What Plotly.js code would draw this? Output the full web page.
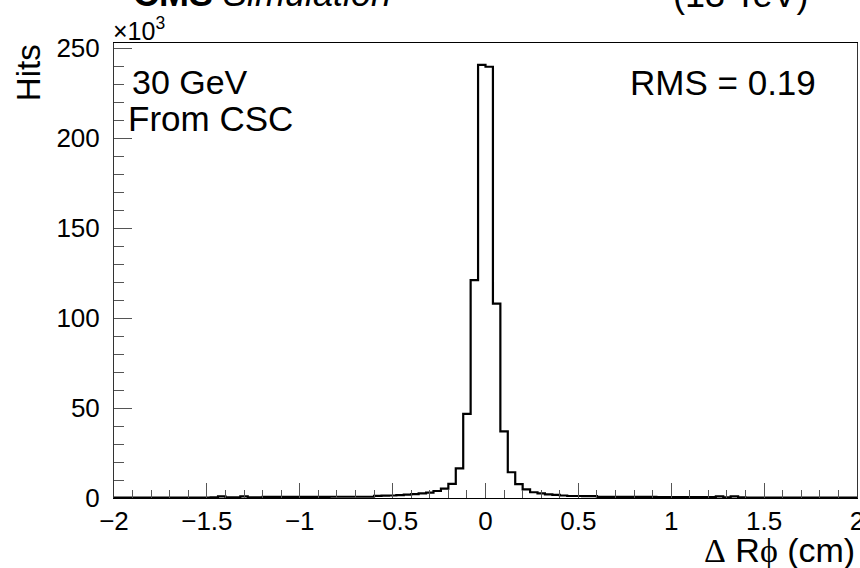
<!DOCTYPE html>
<html>
<head>
<meta charset="utf-8">
<script src="https://cdn.plot.ly/plotly-3.0.1.min.js"></script>
<style>html,body{margin:0;padding:0;background:#fff;}#chart{width:860px;height:568px;}</style>
</head>
<body>
<div id="chart"></div>
<script>
// Histogram definition: 100 bins of width 0.04 from -2 to 2 (ΔRφ in cm)
const binLow = -2;
const binWidth = 0.04;
// Hits per bin, in units of 10^3
const hits = [
  0.2, 0.2, 0.2, 0.2, 0.2, 0.2, 0.2, 0.2, 0.2, 0.2,
  0.2, 0.2, 0.2, 0.3, 0.9, 0.3, 0.3, 0.9, 0.4, 0.4,
  0.6, 0.6, 0.6, 0.6, 0.6, 0.6, 0.6, 0.6, 0.6, 0.7,
  0.7, 0.7, 0.7, 0.7, 0.7, 1.2, 1.3, 1.4, 1.6, 1.9,
  2.2, 2.6, 3.0, 3.9, 5.2, 7.8, 16.5, 46.7, 121, 240.7,
  239.6, 108, 37, 14.3, 7.7, 4.8, 3.2, 2.6, 2.0, 1.7,
  1.4, 1.1, 1.1, 1.0, 1.0, 0.6, 0.6, 0.6, 0.6, 0.6,
  0.6, 0.6, 0.6, 0.5, 0.5, 0.5, 0.5, 0.5, 0.5, 0.5,
  0.5, 0.9, 0.4, 0.9, 0.3, 0.2, 0.2, 0.2, 0.2, 0.2,
  0.2, 0.2, 0.2, 0.2, 0.2, 0.2, 0.2, 0.2, 0.2, 0.2
];
const yTickVals = [0, 50, 100, 150, 200, 250];
const xTickVals = [-2, -1.5, -1, -0.5, 0, 0.5, 1, 1.5, 2];
const xTickText = ['\u22122', '\u22121.5', '\u22121', '\u22120.5', '0', '0.5', '1', '1.5', '2'];

// Build step outline (ROOT-style histogram)
const xs = [], ys = [];
xs.push(binLow); ys.push(0);
for (let i = 0; i < hits.length; i++) {
  xs.push(binLow + i * binWidth); ys.push(hits[i]);
}
xs.push(binLow + hits.length * binWidth); ys.push(hits[hits.length - 1]);
xs.push(binLow + hits.length * binWidth); ys.push(0);

const FONT = 'Liberation Sans, Arial, Helvetica, sans-serif';
const SERIF = 'Liberation Serif, serif';

const trace = {
  type: 'scatter', mode: 'lines', x: xs, y: ys,
  line: {shape: 'hv', color: '#000', width: 2.2},
  hoverinfo: 'skip', showlegend: false
};

const layout = {
  width: 860, height: 568,
  margin: {l: 114, r: 3, t: 43, b: 70, pad: 0},
  paper_bgcolor: '#fff', plot_bgcolor: '#fff',
  font: {family: FONT, color: '#000'},
  xaxis: {
    range: [-2, 2], showgrid: false, zeroline: false,
    showline: true, linecolor: '#000', linewidth: 1, mirror: true,
    ticks: 'inside', ticklen: 15, tickwidth: 1, tickcolor: '#555',
    tickvals: xTickVals, ticktext: xTickText,
    ticklabeloverflow: 'allow',
    tickfont: {size: 26, family: FONT, color: '#000'},
    minor: {dtick: 0.1, ticks: 'inside', ticklen: 8, tickwidth: 1, tickcolor: '#555', showgrid: false}
  },
  yaxis: {
    range: [0, 252.8], showgrid: false, zeroline: false,
    showline: true, linecolor: '#333', linewidth: 1, mirror: true,
    ticks: 'inside', ticklen: 18, tickwidth: 1, tickcolor: '#555',
    tickvals: yTickVals, ticktext: yTickVals.map(String),
    ticklabelstandoff: 8,
    tickfont: {size: 26, family: FONT, color: '#000'},
    minor: {dtick: 10, ticks: 'inside', ticklen: 10, tickwidth: 1, tickcolor: '#555', showgrid: false}
  },
  annotations: [
    {xref: 'paper', yref: 'paper', x: -0.004, y: 0.991, xanchor: 'left', yanchor: 'bottom',
     text: '\u00d710<sup>3</sup>', showarrow: false, font: {size: 25, family: FONT}},
    {xref: 'paper', yref: 'paper', x: -0.115, y: 0.935, xanchor: 'center', yanchor: 'middle',
     text: 'Hits', textangle: -90, showarrow: false, font: {size: 33, family: FONT}},
    {xref: 'paper', yref: 'paper', x: 1.0, y: -0.115, xanchor: 'right', yanchor: 'middle',
     text: '<span style="font-family:' + SERIF + '">\u0394</span> R<span style="font-family:' + SERIF + '">\u03d5</span> (cm)',
     showarrow: false, font: {size: 34, family: FONT}},
    {xref: 'paper', yref: 'paper', x: 0.022, y: 0.915, xanchor: 'left', yanchor: 'middle',
     text: '30 GeV', showarrow: false, font: {size: 34, family: FONT}},
    {xref: 'paper', yref: 'paper', x: 0.016, y: 0.835, xanchor: 'left', yanchor: 'middle',
     text: 'From CSC', showarrow: false, font: {size: 35, family: FONT}},
    {xref: 'paper', yref: 'paper', x: 0.9475, y: 0.913, xanchor: 'right', yanchor: 'middle',
     text: 'RMS = 0.19', showarrow: false, font: {size: 35, family: FONT}},
    {xref: 'paper', yref: 'paper', x: 0.023, y: 1.109, xanchor: 'left', yanchor: 'middle',
     text: '<b>CMS</b> <i>Simulation</i>', showarrow: false, font: {size: 36, family: FONT}},
    {xref: 'paper', yref: 'paper', x: 0.937, y: 1.1055, xanchor: 'right', yanchor: 'middle',
     text: '(13 TeV)', showarrow: false, font: {size: 36, family: FONT}}
  ]
};

Plotly.newPlot('chart', [trace], layout, {staticPlot: true, displayModeBar: false});
</script>
</body>
</html>
